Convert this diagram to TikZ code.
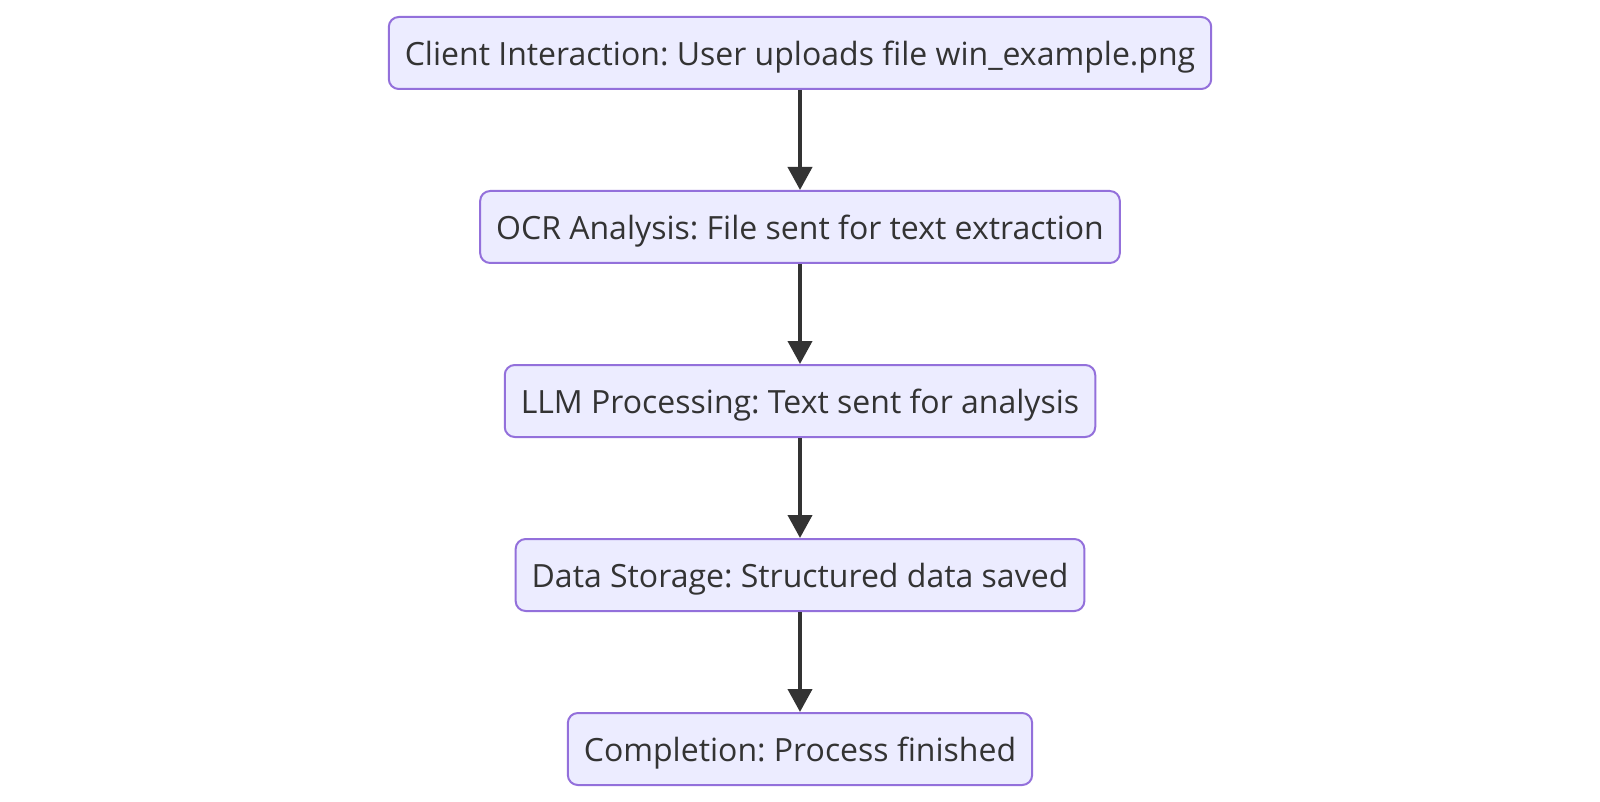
\documentclass[tikz,border=0pt]{standalone}
\usepackage{fontspec}
\setmainfont{Open Sans}
\usetikzlibrary{arrows.meta,positioning}
\definecolor{boxfill}{HTML}{ECECFF}
\definecolor{boxline}{HTML}{9370DB}
\definecolor{ink}{HTML}{333333}
\frenchspacing

\begin{document}
\begin{tikzpicture}[
  stage/.style={draw=boxline, rounded corners=5pt, line width=1pt,
                fill=boxfill, text=ink, align=center, minimum height=36pt,
                text height=12.7pt, text depth=0pt,
                inner xsep=8pt, inner ysep=0pt, font=\fontsize{16pt}{19pt}\selectfont},
  arr/.style={-{Triangle[length=11.5pt, width=12pt]}, line width=2pt, draw=ink},
  node distance=50pt]

\useasboundingbox (0pt,0pt) rectangle (800pt,-401pt);

\node[stage] (client) at (400pt,-26.5pt) {Client Interaction: User uploads file win\_example.png};
\node[stage, below=of client] (ocr) {OCR Analysis: File sent for text extraction};
\node[stage, below=of ocr] (llm) {LLM Processing: Text sent for analysis};
\node[stage, below=of llm] (store) {Data Storage: Structured data saved};
\node[stage, below=of store] (done) {Completion: Process finished};

\draw[arr] (client) -- (ocr);
\draw[arr] (ocr) -- (llm);
\draw[arr] (llm) -- (store);
\draw[arr] (store) -- (done);
\end{tikzpicture}
\end{document}
